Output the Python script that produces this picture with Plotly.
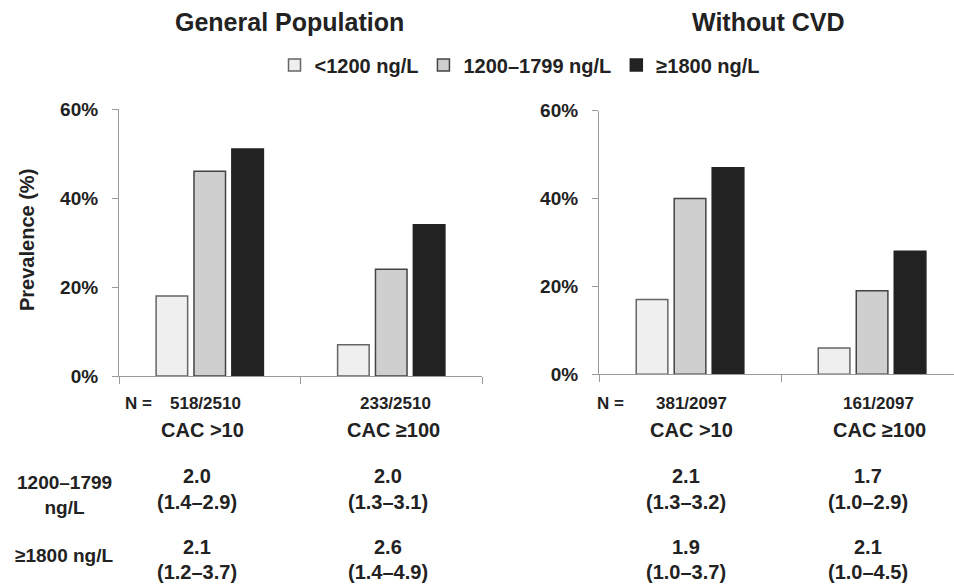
import plotly.graph_objects as go

W, H = 954, 585

categories = ["CAC >10", "CAC ≥100"]
series_names = ["<1200 ng/L", "1200–1799 ng/L", "≥1800 ng/L"]
general_values = [[18, 7], [46, 24], [51, 34]]
nocvd_values = [[17, 6], [40, 19], [47, 28]]
general_n = ["518/2510", "233/2510"]
nocvd_n = ["381/2097", "161/2097"]
panel_titles = ["General Population", "Without CVD"]
row_labels = ["1200–1799<br>ng/L", "≥1800 ng/L"]
general_or = [["2.0", "(1.4–2.9)"], ["2.0", "(1.3–3.1)"]]
general_or2 = [["2.1", "(1.2–3.7)"], ["2.6", "(1.4–4.9)"]]
nocvd_or = [["2.1", "(1.3–3.2)"], ["1.7", "(1.0–2.9)"]]
nocvd_or2 = [["1.9", "(1.0–3.7)"], ["2.1", "(1.0–4.5)"]]
y_ticks = [0, 20, 40, 60]
y_ticklabels = ["0%", "20%", "40%", "60%"]

fills = ["#efefef", "#cfcfcf", "#222222"]
lines = ["#666666", "#444444", "#222222"]

FONT = "Liberation Sans, Arial, sans-serif"
TXT = "#222222"

def px(x):
    return x / W

def py(y):
    return 1 - y / H

fig = go.Figure()
for i, name in enumerate(series_names):
    fig.add_trace(go.Bar(
        x=categories, y=general_values[i], name=name,
        marker=dict(color=fills[i], line=dict(color=lines[i], width=1.5)),
        xaxis="x", yaxis="y", showlegend=True,
    ))
for i, name in enumerate(series_names):
    fig.add_trace(go.Bar(
        x=categories, y=nocvd_values[i], name=name,
        marker=dict(color=fills[i], line=dict(color=lines[i], width=1.5)),
        xaxis="x2", yaxis="y2", showlegend=False,
    ))

axis_common = dict(showgrid=False, zeroline=False, showline=True, automargin=False,
                   linecolor="#9a9a9a", linewidth=1.2, ticks="outside",
                   tickcolor="#9a9a9a", tickwidth=1.2)

xcommon = dict(axis_common, type="category", tickson="boundaries", ticklen=7,
               showticklabels=False)
ycommon = dict(axis_common, range=[0, 60], tickvals=y_ticks, ticktext=y_ticklabels,
               ticklen=6, ticklabelstandoff=10,
               tickfont=dict(size=19, color=TXT, family=FONT, weight="bold"))

fig.update_layout(
    template="none",
    width=W, height=H, autosize=False,
    margin=dict(l=0, r=0, t=0, b=0, pad=0, autoexpand=False),
    paper_bgcolor="white", plot_bgcolor="white",
    barmode="group", bargap=0.374, bargroupgap=0.167,
    font=dict(family=FONT, color=TXT),
    xaxis=dict(xcommon, domain=[px(119), px(482)], range=[-0.5, 1.5], anchor="y"),
    yaxis=dict(ycommon, domain=[py(376), py(109)], anchor="x"),
    xaxis2=dict(xcommon, domain=[px(599), 1.0], range=[-0.5, 1.45], anchor="y2"),
    yaxis2=dict(ycommon, domain=[py(374.3), py(110.7)], anchor="x2"),
    legend=dict(orientation="h", x=px(520), xanchor="center", y=py(65), yanchor="middle",
                font=dict(size=20, color=TXT, family=FONT, weight="bold"),
                itemclick=False, traceorder="normal", bgcolor="rgba(0,0,0,0)"),
    showlegend=True,
)

ann = []
def add(text, x, y, size, xanchor="center", textangle=0):
    ann.append(dict(text=text, x=px(x), y=py(y), xref="paper", yref="paper",
                    showarrow=False, xanchor=xanchor, yanchor="middle",
                    textangle=textangle,
                    font=dict(size=size, color=TXT, family=FONT, weight="bold")))

add(panel_titles[0], 289, 22, 25)
add(panel_titles[1], 768, 22, 25)
add("Prevalence (%)", 27, 240, 20, textangle=-90)

add("N =", 138, 403, 17)
add("N =", 610, 403, 17)
gen_n_x = [205, 395]
nocvd_n_x = [691, 878]
gen_cat_x = [202, 393]
nocvd_cat_x = [691, 879]
for j in range(2):
    add(general_n[j], gen_n_x[j], 403, 17)
    add(nocvd_n[j], nocvd_n_x[j], 403, 17)
    add(categories[j], gen_cat_x[j], 430, 20)
    add(categories[j], nocvd_cat_x[j], 430, 20)

add(row_labels[0], 64, 495, 19)
add(row_labels[1], 64, 555, 19)
gen_col_x = [197, 388]
nocvd_col_x = [686, 868]
for j in range(2):
    add(general_or[j][0], gen_col_x[j], 476, 20)
    add(general_or[j][1], gen_col_x[j], 502, 20)
    add(general_or2[j][0], gen_col_x[j], 547, 20)
    add(general_or2[j][1], gen_col_x[j], 572, 20)
    add(nocvd_or[j][0], nocvd_col_x[j], 476, 20)
    add(nocvd_or[j][1], nocvd_col_x[j], 502, 20)
    add(nocvd_or2[j][0], nocvd_col_x[j], 547, 20)
    add(nocvd_or2[j][1], nocvd_col_x[j], 572, 20)

fig.update_layout(annotations=ann)
fig.write_html("out.html", config={"displayModeBar": False},
               post_script="document.body.style.margin='0';document.body.style.overflow='hidden';")
